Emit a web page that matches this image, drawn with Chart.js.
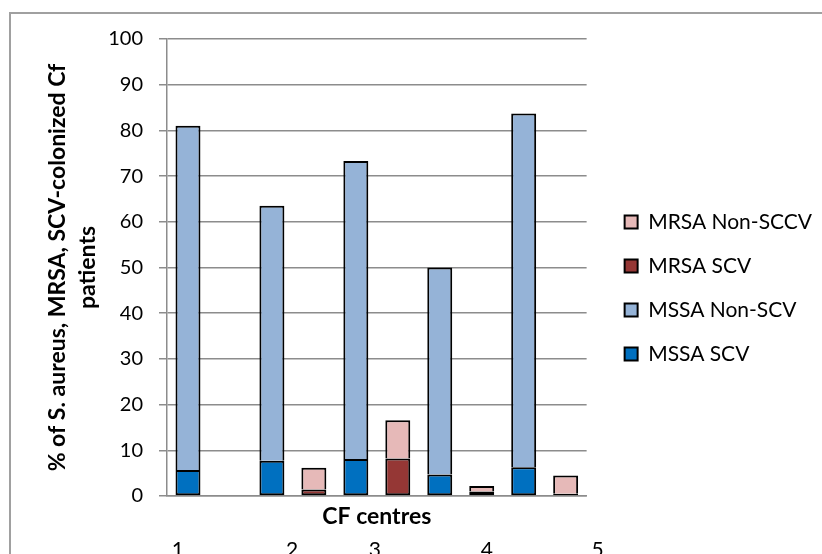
<!DOCTYPE html>
<html>
<head>
<meta charset="utf-8">
<script src="https://cdn.jsdelivr.net/npm/chart.js@4"></script>
<style>
  body { margin: 0; overflow: hidden; background: #fff; }
  #frame { position: absolute; left: 9px; top: 12px; width: 900px; height: 700px; border: 2px solid #a0a0a0; }
  #wrap { position: absolute; left: 0; top: 0; width: 822px; height: 554px; }
</style>
</head>
<body>
<div id="frame"></div>
<div id="wrap"><canvas id="scv-chart"></canvas></div>
<script>
// CF centres (x categories) and the bottom row labels
const centres = ['1', '2', '3', '4', '5'];
const centreLabels = ['1', '2', '3', '4', '5'];

// % of patients per centre
const mssaScv = [5.7, 7.7, 8.1, 4.7, 6.3];
const mssaNonScv = [75.3, 55.8, 65.2, 45.3, 77.4];
const mrsaScv = [null, 1.4, 8.2, 1.0, 0.5];
const mrsaNonSccv = [null, 4.8, 8.4, 1.2, 4.0];

const yTicks = [0, 10, 20, 30, 40, 50, 60, 70, 80, 90, 100];

const gridGrey = '#8c8c8c';
const font = 'Lato';

// Excel puts the centre numbers below the axis title, at their own spots
const labelSpots = [0.026, 0.298, 0.495, 0.762, 1.026];
const centreRow = {
    id: 'centreRow',
    afterDraw(chart) {
        const ctx = chart.ctx;
        const area = chart.chartArea;
        ctx.save();
        ctx.font = '21px ' + font;
        ctx.fillStyle = '#000';
        ctx.textAlign = 'center';
        ctx.textBaseline = 'alphabetic';
        centreLabels.forEach((t, i) => {
            ctx.fillText(t, area.left + labelSpots[i] * (area.right - area.left), 557);
        });
        ctx.restore();
    }
};

const scvChart = document.querySelector('#scv-chart').getContext('2d');

// note: negative left padding only widens the room chart.js allows the legend,
// the y axis width below puts the plot back where it belongs
const scvGraph = new Chart(scvChart, {
    type: 'bar',
    data: {
        labels: centres,
        datasets: [
            {
                label: 'MSSA SCV',
                data: mssaScv,
                stack: 'mssa',
                backgroundColor: '#0070c0',
                borderColor: '#000',
                borderWidth: 2,
                borderSkipped: false
            },
            {
                label: 'MSSA Non-SCV',
                data: mssaNonScv,
                stack: 'mssa',
                backgroundColor: '#95b3d7',
                borderColor: '#000',
                borderWidth: 2
            },
            {
                label: 'MRSA SCV',
                data: mrsaScv,
                stack: 'mrsa',
                backgroundColor: '#953735',
                borderColor: '#000',
                borderWidth: 2,
                borderSkipped: false
            },
            {
                label: 'MRSA Non-SCCV',
                data: mrsaNonSccv,
                stack: 'mrsa',
                backgroundColor: '#e6b9b8',
                borderColor: '#000',
                borderWidth: 2
            }
        ]
    },
    options: {
        responsive: true,
        maintainAspectRatio: false,
        animation: false,
        categoryPercentage: 1.0,
        barPercentage: 0.595,
        layout: {
            padding: { left: -60, top: 39, bottom: 24, right: 0 }
        },
        plugins: {
            tooltip: { enabled: false },
            legend: {
                position: 'right',
                reverse: true,
                // empty title just nudges the items down a few px
                title: { display: true, text: '', font: { size: 1 }, padding: 3 },
                labels: {
                    color: '#000',
                    font: { family: font, size: 21 },
                    boxWidth: 13,
                    boxHeight: 13,
                    padding: 23
                }
            }
        },
        scales: {
            x: {
                stacked: true,
                grid: { display: false },
                border: { color: gridGrey, width: 1.5 },
                ticks: { display: false },
                title: {
                    display: true,
                    text: 'CF centres',
                    color: '#000',
                    font: { family: font, size: 23, weight: 'bold' },
                    padding: 0
                },
                afterFit(scale) { scale.height = 34; }
            },
            y: {
                stacked: true,
                min: 0,
                max: 100,
                afterBuildTicks(scale) { scale.ticks = yTicks.map(v => ({ value: v })); },
                grid: { color: gridGrey, lineWidth: 1.5, tickLength: 8 },
                border: { color: gridGrey, width: 1.5 },
                ticks: {
                    color: '#000',
                    padding: 16,
                    font: { family: font, size: 20 }
                },
                title: {
                    display: true,
                    text: ['% of S. aureus, MRSA, SCV-colonized Cf', 'patients'],
                    color: '#000',
                    font: { family: font, size: 23, weight: 'bold', lineHeight: 1.3 },
                    padding: { top: 103, bottom: 4 }
                },
                afterFit(scale) { scale.width = 227; }
            },
            spacer: {
                type: 'linear',
                position: 'right',
                display: false,
                afterFit(scale) { scale.width = 15; }
            }
        }
    },
    plugins: [centreRow]
});
</script>
</body>
</html>
